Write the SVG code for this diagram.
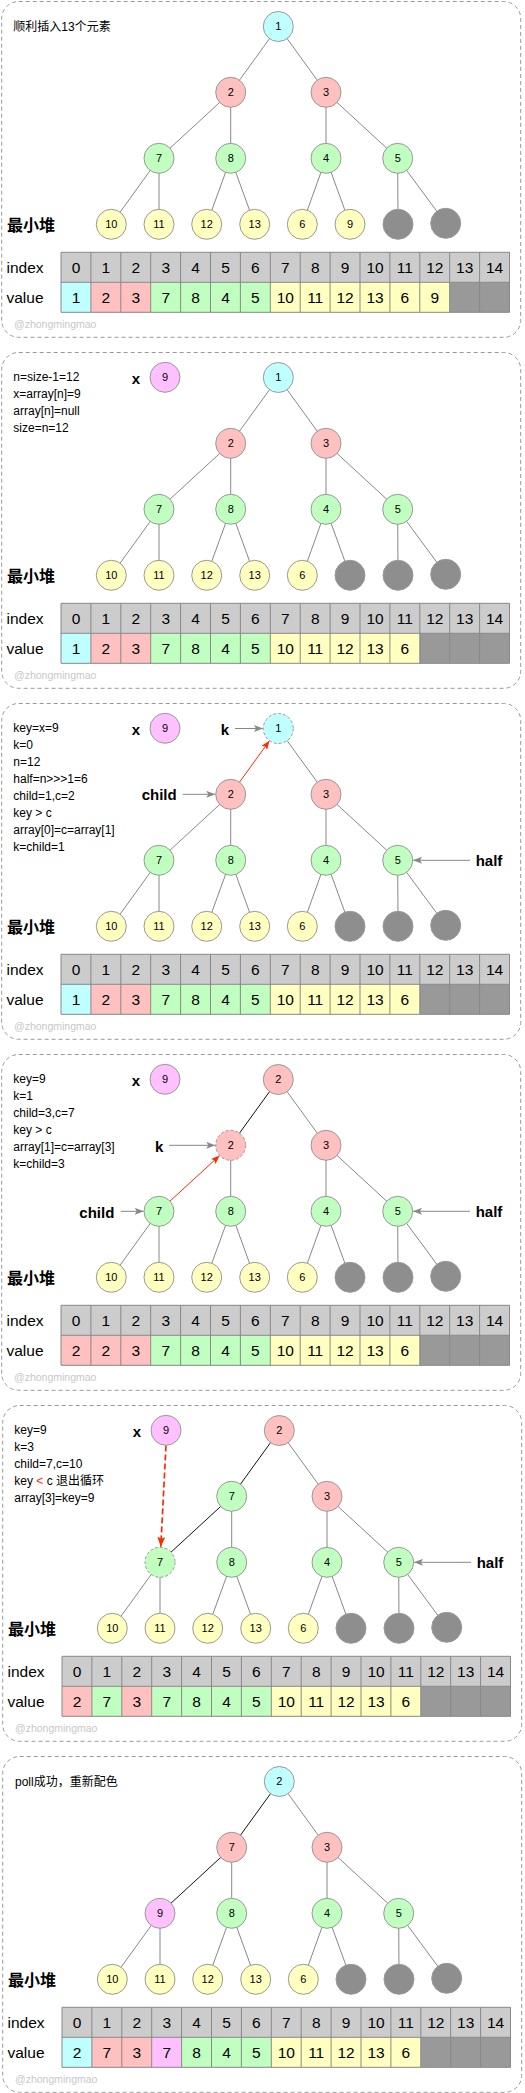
<svg xmlns="http://www.w3.org/2000/svg" xmlns:xlink="http://www.w3.org/1999/xlink" width="525" height="2093" viewBox="0 0 525 2093">
<style>
text{font-family:"Liberation Sans","Noto Sans CJK SC",sans-serif;}
.pb{fill:none;stroke:#999;stroke-width:1;stroke-dasharray:4 3;}
.e line{stroke:#888;stroke-width:1;}
.e line.eb{stroke:#111;stroke-width:1;}
.n{stroke:#999;stroke-width:1;}
.d{stroke-dasharray:3 2;}
.c{fill:#c0ffff;}.r{fill:#ffc0c0;}.g{fill:#c0ffc0;}.y{fill:#ffffc0;}.m{fill:#ffc0ff;}.k{fill:#8e8e8e;}.kt{fill:#999;}
.nt{font-size:11px;text-anchor:middle;fill:#000;}
.tt{font-size:15.5px;text-anchor:middle;fill:#000;}
.rl{font-size:15.5px;fill:#000;}
.hp{font-size:16px;font-weight:bold;fill:#000;}
.lb{font-size:15px;font-weight:bold;fill:#000;}
.note{font-size:12px;fill:#000;}
.wm{font-size:10.5px;fill:#c8c8c8;}
.e line.ga{stroke:#888;stroke-width:1;marker-end:url(#ag);}
.e line.ra{stroke:#ff2a00;stroke-width:1;marker-end:url(#ar);}
.e line.rd{stroke:#ff2a00;stroke-width:1.7;stroke-dasharray:6 3;fill:none;marker-end:url(#ar2);}
</style>
<defs>
<marker id="ag" markerUnits="userSpaceOnUse" viewBox="0 0 9 7" refX="9" refY="3.5" markerWidth="9" markerHeight="7" orient="auto"><path d="M0,0L9,3.5L0,7L2,3.5Z" fill="#888"/></marker>
<marker id="ar" markerUnits="userSpaceOnUse" viewBox="0 0 9 7" refX="9" refY="3.5" markerWidth="9" markerHeight="7" orient="auto"><path d="M0,0L9,3.5L0,7L2,3.5Z" fill="#ff2a00"/></marker>
<marker id="ar2" markerUnits="userSpaceOnUse" viewBox="0 0 10 8" refX="10" refY="4" markerWidth="10" markerHeight="8" orient="auto"><path d="M0,0L10,4L0,8L2,4Z" fill="#ff2a00"/></marker>
<rect id="frame" class="pb" x="1.7" y="0.5" width="519" height="335.8" rx="17"/>
<rect id="idxbg" x="61" y="251.3" width="448.5" height="30" fill="#ccc"/>
<path id="grid" fill="none" stroke="#888" stroke-width="1" d="M61,251.3H509.5V311.3H61Z M61,281.3H509.5 M90.9,251.3V311.3 M120.8,251.3V311.3 M150.7,251.3V311.3 M180.6,251.3V311.3 M210.5,251.3V311.3 M240.4,251.3V311.3 M270.3,251.3V311.3 M300.2,251.3V311.3 M330.1,251.3V311.3 M360,251.3V311.3 M389.9,251.3V311.3 M419.8,251.3V311.3 M449.7,251.3V311.3 M479.6,251.3V311.3"/>
</defs>

<!-- ================= PANEL 1 ================= -->
<g id="panel1" transform="translate(0,1)">
<use href="#frame"/>
<text class="note" x="13.3" y="30">顺利插入13个元素</text>
<g id="p1-connectors" class="e">
<line x1="278.3" y1="25.5" x2="230.7" y2="91.3"/><line x1="278.3" y1="25.5" x2="326" y2="91.3"/>
<line x1="230.7" y1="91.3" x2="159" y2="157.3"/><line x1="230.7" y1="91.3" x2="230.7" y2="157.3"/>
<line x1="326" y1="91.3" x2="326" y2="157.3"/><line x1="326" y1="91.3" x2="397.7" y2="157.3"/>
<line x1="159" y1="157.3" x2="111.3" y2="223.3"/><line x1="159" y1="157.3" x2="159" y2="223.3"/>
<line x1="230.7" y1="157.3" x2="206.7" y2="223.3"/><line x1="230.7" y1="157.3" x2="254.7" y2="223.3"/>
<line x1="326" y1="157.3" x2="302.3" y2="223.3"/><line x1="326" y1="157.3" x2="350" y2="223.3"/>
<line x1="397.7" y1="157.3" x2="398" y2="223.3"/><line x1="397.7" y1="157.3" x2="445.7" y2="222.3"/>
</g>
<g id="p1-n0"><circle class="n c" cx="278.3" cy="25.5" r="15"/><text class="nt" x="278.3" y="29.4">1</text></g>
<g id="p1-n1"><circle class="n r" cx="230.7" cy="91.3" r="15"/><text class="nt" x="230.7" y="95.2">2</text></g>
<g id="p1-n2"><circle class="n r" cx="326" cy="91.3" r="15"/><text class="nt" x="326" y="95.2">3</text></g>
<g id="p1-n3"><circle class="n g" cx="159" cy="157.3" r="15"/><text class="nt" x="159" y="161.2">7</text></g>
<g id="p1-n4"><circle class="n g" cx="230.7" cy="157.3" r="15"/><text class="nt" x="230.7" y="161.2">8</text></g>
<g id="p1-n5"><circle class="n g" cx="326" cy="157.3" r="15"/><text class="nt" x="326" y="161.2">4</text></g>
<g id="p1-n6"><circle class="n g" cx="397.7" cy="157.3" r="15"/><text class="nt" x="397.7" y="161.2">5</text></g>
<g id="p1-n7"><circle class="n y" cx="111.3" cy="223.3" r="15"/><text class="nt" x="111.3" y="227.2">10</text></g>
<g id="p1-n8"><circle class="n y" cx="159" cy="223.3" r="15"/><text class="nt" x="159" y="227.2">11</text></g>
<g id="p1-n9"><circle class="n y" cx="206.7" cy="223.3" r="15"/><text class="nt" x="206.7" y="227.2">12</text></g>
<g id="p1-n10"><circle class="n y" cx="254.7" cy="223.3" r="15"/><text class="nt" x="254.7" y="227.2">13</text></g>
<g id="p1-n11"><circle class="n y" cx="302.3" cy="223.3" r="15"/><text class="nt" x="302.3" y="227.2">6</text></g>
<g id="p1-n12"><circle class="n y" cx="350" cy="223.3" r="15"/><text class="nt" x="350" y="227.2">9</text></g>
<g id="p1-n13"><circle class="n k" cx="398" cy="223.3" r="15"/></g>
<g id="p1-n14"><circle class="n k" cx="445.7" cy="222.3" r="15"/></g>
<text class="hp" x="7" y="230">最小堆</text>
<g id="p1-table">
<use href="#idxbg"/>
<rect class="c" x="61" y="281.3" width="29.9" height="30"/><rect class="r" x="90.9" y="281.3" width="59.8" height="30"/><rect class="g" x="150.7" y="281.3" width="119.6" height="30"/><rect class="y" x="270.3" y="281.3" width="179.4" height="30"/><rect class="kt" x="449.7" y="281.3" width="59.8" height="30"/>
<use href="#grid"/>
<text class="rl" x="6.5" y="272">index</text><text class="rl" x="6.5" y="302">value</text>
<text class="tt" x="76" y="271.7">0</text><text class="tt" x="105.9" y="271.7">1</text><text class="tt" x="135.8" y="271.7">2</text><text class="tt" x="165.7" y="271.7">3</text><text class="tt" x="195.6" y="271.7">4</text><text class="tt" x="225.5" y="271.7">5</text><text class="tt" x="255.4" y="271.7">6</text><text class="tt" x="285.3" y="271.7">7</text><text class="tt" x="315.2" y="271.7">8</text><text class="tt" x="345.1" y="271.7">9</text><text class="tt" x="375" y="271.7">10</text><text class="tt" x="404.9" y="271.7">11</text><text class="tt" x="434.8" y="271.7">12</text><text class="tt" x="464.7" y="271.7">13</text><text class="tt" x="494.6" y="271.7">14</text>
<text class="tt" x="76" y="301.7">1</text><text class="tt" x="105.9" y="301.7">2</text><text class="tt" x="135.8" y="301.7">3</text><text class="tt" x="165.7" y="301.7">7</text><text class="tt" x="195.6" y="301.7">8</text><text class="tt" x="225.5" y="301.7">4</text><text class="tt" x="255.4" y="301.7">5</text><text class="tt" x="285.3" y="301.7">10</text><text class="tt" x="315.2" y="301.7">11</text><text class="tt" x="345.1" y="301.7">12</text><text class="tt" x="375" y="301.7">13</text><text class="tt" x="404.9" y="301.7">6</text><text class="tt" x="434.8" y="301.7">9</text>
</g>
<text class="wm" x="14" y="327">@zhongmingmao</text>
</g>

<!-- ================= PANEL 2 ================= -->
<g id="panel2" transform="translate(0,352)">
<use href="#frame"/>
<text class="note" x="13.3" y="28.5">n=size-1=12</text>
<text class="note" x="13.3" y="45.5">x=array[n]=9</text>
<text class="note" x="13.3" y="62.5">array[n]=null</text>
<text class="note" x="13.3" y="79.5">size=n=12</text>
<text class="lb" x="131.7" y="31.5">x</text>
<g id="p2-x"><circle class="n m" cx="165" cy="25.3" r="15"/><text class="nt" x="165" y="29.2">9</text></g>
<g id="p2-connectors" class="e">
<line x1="278.3" y1="25.5" x2="230.7" y2="91.3"/><line x1="278.3" y1="25.5" x2="326" y2="91.3"/>
<line x1="230.7" y1="91.3" x2="159" y2="157.3"/><line x1="230.7" y1="91.3" x2="230.7" y2="157.3"/>
<line x1="326" y1="91.3" x2="326" y2="157.3"/><line x1="326" y1="91.3" x2="397.7" y2="157.3"/>
<line x1="159" y1="157.3" x2="111.3" y2="223.3"/><line x1="159" y1="157.3" x2="159" y2="223.3"/>
<line x1="230.7" y1="157.3" x2="206.7" y2="223.3"/><line x1="230.7" y1="157.3" x2="254.7" y2="223.3"/>
<line x1="326" y1="157.3" x2="302.3" y2="223.3"/><line x1="326" y1="157.3" x2="350" y2="223.3"/>
<line x1="397.7" y1="157.3" x2="398" y2="223.3"/><line x1="397.7" y1="157.3" x2="445.7" y2="222.3"/>
</g>
<g id="p2-n0"><circle class="n c" cx="278.3" cy="25.5" r="15"/><text class="nt" x="278.3" y="29.4">1</text></g>
<g id="p2-n1"><circle class="n r" cx="230.7" cy="91.3" r="15"/><text class="nt" x="230.7" y="95.2">2</text></g>
<g id="p2-n2"><circle class="n r" cx="326" cy="91.3" r="15"/><text class="nt" x="326" y="95.2">3</text></g>
<g id="p2-n3"><circle class="n g" cx="159" cy="157.3" r="15"/><text class="nt" x="159" y="161.2">7</text></g>
<g id="p2-n4"><circle class="n g" cx="230.7" cy="157.3" r="15"/><text class="nt" x="230.7" y="161.2">8</text></g>
<g id="p2-n5"><circle class="n g" cx="326" cy="157.3" r="15"/><text class="nt" x="326" y="161.2">4</text></g>
<g id="p2-n6"><circle class="n g" cx="397.7" cy="157.3" r="15"/><text class="nt" x="397.7" y="161.2">5</text></g>
<g id="p2-n7"><circle class="n y" cx="111.3" cy="223.3" r="15"/><text class="nt" x="111.3" y="227.2">10</text></g>
<g id="p2-n8"><circle class="n y" cx="159" cy="223.3" r="15"/><text class="nt" x="159" y="227.2">11</text></g>
<g id="p2-n9"><circle class="n y" cx="206.7" cy="223.3" r="15"/><text class="nt" x="206.7" y="227.2">12</text></g>
<g id="p2-n10"><circle class="n y" cx="254.7" cy="223.3" r="15"/><text class="nt" x="254.7" y="227.2">13</text></g>
<g id="p2-n11"><circle class="n y" cx="302.3" cy="223.3" r="15"/><text class="nt" x="302.3" y="227.2">6</text></g>
<g id="p2-n12"><circle class="n k" cx="350" cy="223.3" r="15"/></g>
<g id="p2-n13"><circle class="n k" cx="398" cy="223.3" r="15"/></g>
<g id="p2-n14"><circle class="n k" cx="445.7" cy="222.3" r="15"/></g>
<text class="hp" x="7" y="230">最小堆</text>
<g id="p2-table">
<use href="#idxbg"/>
<rect class="c" x="61" y="281.3" width="29.9" height="30"/><rect class="r" x="90.9" y="281.3" width="59.8" height="30"/><rect class="g" x="150.7" y="281.3" width="119.6" height="30"/><rect class="y" x="270.3" y="281.3" width="149.5" height="30"/><rect class="kt" x="419.8" y="281.3" width="89.7" height="30"/>
<use href="#grid"/>
<text class="rl" x="6.5" y="272">index</text><text class="rl" x="6.5" y="302">value</text>
<text class="tt" x="76" y="271.7">0</text><text class="tt" x="105.9" y="271.7">1</text><text class="tt" x="135.8" y="271.7">2</text><text class="tt" x="165.7" y="271.7">3</text><text class="tt" x="195.6" y="271.7">4</text><text class="tt" x="225.5" y="271.7">5</text><text class="tt" x="255.4" y="271.7">6</text><text class="tt" x="285.3" y="271.7">7</text><text class="tt" x="315.2" y="271.7">8</text><text class="tt" x="345.1" y="271.7">9</text><text class="tt" x="375" y="271.7">10</text><text class="tt" x="404.9" y="271.7">11</text><text class="tt" x="434.8" y="271.7">12</text><text class="tt" x="464.7" y="271.7">13</text><text class="tt" x="494.6" y="271.7">14</text>
<text class="tt" x="76" y="301.7">1</text><text class="tt" x="105.9" y="301.7">2</text><text class="tt" x="135.8" y="301.7">3</text><text class="tt" x="165.7" y="301.7">7</text><text class="tt" x="195.6" y="301.7">8</text><text class="tt" x="225.5" y="301.7">4</text><text class="tt" x="255.4" y="301.7">5</text><text class="tt" x="285.3" y="301.7">10</text><text class="tt" x="315.2" y="301.7">11</text><text class="tt" x="345.1" y="301.7">12</text><text class="tt" x="375" y="301.7">13</text><text class="tt" x="404.9" y="301.7">6</text>
</g>
<text class="wm" x="14" y="327">@zhongmingmao</text>
</g>

<!-- ================= PANEL 3 ================= -->
<g id="panel3" transform="translate(0,703)">
<use href="#frame"/>
<text class="note" x="13.3" y="28.5">key=x=9</text>
<text class="note" x="13.3" y="45.5">k=0</text>
<text class="note" x="13.3" y="62.5">n=12</text>
<text class="note" x="13.3" y="79.5">half=n&gt;&gt;&gt;1=6</text>
<text class="note" x="13.3" y="96.5">child=1,c=2</text>
<text class="note" x="13.3" y="113.5">key &gt; c</text>
<text class="note" x="13.3" y="130.5">array[0]=c=array[1]</text>
<text class="note" x="13.3" y="147.5">k=child=1</text>
<text class="lb" x="131.7" y="31.5">x</text>
<g id="p3-x"><circle class="n m" cx="165" cy="25.3" r="15"/><text class="nt" x="165" y="29.2">9</text></g>
<g id="p3-connectors" class="e">
<line x1="278.3" y1="25.5" x2="326" y2="91.3"/>
<line x1="230.7" y1="91.3" x2="159" y2="157.3"/><line x1="230.7" y1="91.3" x2="230.7" y2="157.3"/>
<line x1="326" y1="91.3" x2="326" y2="157.3"/><line x1="326" y1="91.3" x2="397.7" y2="157.3"/>
<line x1="159" y1="157.3" x2="111.3" y2="223.3"/><line x1="159" y1="157.3" x2="159" y2="223.3"/>
<line x1="230.7" y1="157.3" x2="206.7" y2="223.3"/><line x1="230.7" y1="157.3" x2="254.7" y2="223.3"/>
<line x1="326" y1="157.3" x2="302.3" y2="223.3"/><line x1="326" y1="157.3" x2="350" y2="223.3"/>
<line x1="397.7" y1="157.3" x2="398" y2="223.3"/><line x1="397.7" y1="157.3" x2="445.7" y2="222.3"/>
<line class="ra" x1="239.5" y1="79.2" x2="269.5" y2="37.7"/>
<line class="ga" x1="235" y1="25.5" x2="263" y2="25.5"/>
<line class="ga" x1="182.7" y1="91.3" x2="215.3" y2="91.3"/>
<line class="ga" x1="470" y1="157.3" x2="413" y2="157.3"/>
</g>
<text class="lb" x="220.7" y="32">k</text>
<text class="lb" x="141.7" y="97">child</text>
<text class="lb" x="475.7" y="163">half</text>
<g id="p3-n0"><circle class="n c d" cx="278.3" cy="25.5" r="15"/><text class="nt" x="278.3" y="29.4">1</text></g>
<g id="p3-n1"><circle class="n r" cx="230.7" cy="91.3" r="15"/><text class="nt" x="230.7" y="95.2">2</text></g>
<g id="p3-n2"><circle class="n r" cx="326" cy="91.3" r="15"/><text class="nt" x="326" y="95.2">3</text></g>
<g id="p3-n3"><circle class="n g" cx="159" cy="157.3" r="15"/><text class="nt" x="159" y="161.2">7</text></g>
<g id="p3-n4"><circle class="n g" cx="230.7" cy="157.3" r="15"/><text class="nt" x="230.7" y="161.2">8</text></g>
<g id="p3-n5"><circle class="n g" cx="326" cy="157.3" r="15"/><text class="nt" x="326" y="161.2">4</text></g>
<g id="p3-n6"><circle class="n g" cx="397.7" cy="157.3" r="15"/><text class="nt" x="397.7" y="161.2">5</text></g>
<g id="p3-n7"><circle class="n y" cx="111.3" cy="223.3" r="15"/><text class="nt" x="111.3" y="227.2">10</text></g>
<g id="p3-n8"><circle class="n y" cx="159" cy="223.3" r="15"/><text class="nt" x="159" y="227.2">11</text></g>
<g id="p3-n9"><circle class="n y" cx="206.7" cy="223.3" r="15"/><text class="nt" x="206.7" y="227.2">12</text></g>
<g id="p3-n10"><circle class="n y" cx="254.7" cy="223.3" r="15"/><text class="nt" x="254.7" y="227.2">13</text></g>
<g id="p3-n11"><circle class="n y" cx="302.3" cy="223.3" r="15"/><text class="nt" x="302.3" y="227.2">6</text></g>
<g id="p3-n12"><circle class="n k" cx="350" cy="223.3" r="15"/></g>
<g id="p3-n13"><circle class="n k" cx="398" cy="223.3" r="15"/></g>
<g id="p3-n14"><circle class="n k" cx="445.7" cy="222.3" r="15"/></g>
<text class="hp" x="7" y="230">最小堆</text>
<g id="p3-table">
<use href="#idxbg"/>
<rect class="c" x="61" y="281.3" width="29.9" height="30"/><rect class="r" x="90.9" y="281.3" width="59.8" height="30"/><rect class="g" x="150.7" y="281.3" width="119.6" height="30"/><rect class="y" x="270.3" y="281.3" width="149.5" height="30"/><rect class="kt" x="419.8" y="281.3" width="89.7" height="30"/>
<use href="#grid"/>
<text class="rl" x="6.5" y="272">index</text><text class="rl" x="6.5" y="302">value</text>
<text class="tt" x="76" y="271.7">0</text><text class="tt" x="105.9" y="271.7">1</text><text class="tt" x="135.8" y="271.7">2</text><text class="tt" x="165.7" y="271.7">3</text><text class="tt" x="195.6" y="271.7">4</text><text class="tt" x="225.5" y="271.7">5</text><text class="tt" x="255.4" y="271.7">6</text><text class="tt" x="285.3" y="271.7">7</text><text class="tt" x="315.2" y="271.7">8</text><text class="tt" x="345.1" y="271.7">9</text><text class="tt" x="375" y="271.7">10</text><text class="tt" x="404.9" y="271.7">11</text><text class="tt" x="434.8" y="271.7">12</text><text class="tt" x="464.7" y="271.7">13</text><text class="tt" x="494.6" y="271.7">14</text>
<text class="tt" x="76" y="301.7">1</text><text class="tt" x="105.9" y="301.7">2</text><text class="tt" x="135.8" y="301.7">3</text><text class="tt" x="165.7" y="301.7">7</text><text class="tt" x="195.6" y="301.7">8</text><text class="tt" x="225.5" y="301.7">4</text><text class="tt" x="255.4" y="301.7">5</text><text class="tt" x="285.3" y="301.7">10</text><text class="tt" x="315.2" y="301.7">11</text><text class="tt" x="345.1" y="301.7">12</text><text class="tt" x="375" y="301.7">13</text><text class="tt" x="404.9" y="301.7">6</text>
</g>
<text class="wm" x="14" y="327">@zhongmingmao</text>
</g>

<!-- ================= PANEL 4 ================= -->
<g id="panel4" transform="translate(0,1054)">
<use href="#frame"/>
<text class="note" x="13.3" y="28.5">key=9</text>
<text class="note" x="13.3" y="45.5">k=1</text>
<text class="note" x="13.3" y="62.5">child=3,c=7</text>
<text class="note" x="13.3" y="79.5">key &gt; c</text>
<text class="note" x="13.3" y="96.5">array[1]=c=array[3]</text>
<text class="note" x="13.3" y="113.5">k=child=3</text>
<text class="lb" x="131.7" y="31.5">x</text>
<g id="p4-x"><circle class="n m" cx="165" cy="25.3" r="15"/><text class="nt" x="165" y="29.2">9</text></g>
<g id="p4-connectors" class="e">
<line class="eb" x1="278.3" y1="25.5" x2="230.7" y2="91.3"/><line x1="278.3" y1="25.5" x2="326" y2="91.3"/>
<line x1="230.7" y1="91.3" x2="230.7" y2="157.3"/>
<line x1="326" y1="91.3" x2="326" y2="157.3"/><line x1="326" y1="91.3" x2="397.7" y2="157.3"/>
<line x1="159" y1="157.3" x2="111.3" y2="223.3"/><line x1="159" y1="157.3" x2="159" y2="223.3"/>
<line x1="230.7" y1="157.3" x2="206.7" y2="223.3"/><line x1="230.7" y1="157.3" x2="254.7" y2="223.3"/>
<line x1="326" y1="157.3" x2="302.3" y2="223.3"/><line x1="326" y1="157.3" x2="350" y2="223.3"/>
<line x1="397.7" y1="157.3" x2="398" y2="223.3"/><line x1="397.7" y1="157.3" x2="445.7" y2="222.3"/>
<line class="ra" x1="170" y1="147.1" x2="219.7" y2="101.5"/>
<line class="ga" x1="169" y1="91.3" x2="215.3" y2="91.3"/>
<line class="ga" x1="120.7" y1="157.3" x2="143.7" y2="157.3"/>
<line class="ga" x1="470" y1="157.3" x2="413" y2="157.3"/>
</g>
<text class="lb" x="155" y="97.5">k</text>
<text class="lb" x="79.3" y="163.5">child</text>
<text class="lb" x="475.7" y="163">half</text>
<g id="p4-n0"><circle class="n r" cx="278.3" cy="25.5" r="15"/><text class="nt" x="278.3" y="29.4">2</text></g>
<g id="p4-n1"><circle class="n r d" cx="230.7" cy="91.3" r="15"/><text class="nt" x="230.7" y="95.2">2</text></g>
<g id="p4-n2"><circle class="n r" cx="326" cy="91.3" r="15"/><text class="nt" x="326" y="95.2">3</text></g>
<g id="p4-n3"><circle class="n g" cx="159" cy="157.3" r="15"/><text class="nt" x="159" y="161.2">7</text></g>
<g id="p4-n4"><circle class="n g" cx="230.7" cy="157.3" r="15"/><text class="nt" x="230.7" y="161.2">8</text></g>
<g id="p4-n5"><circle class="n g" cx="326" cy="157.3" r="15"/><text class="nt" x="326" y="161.2">4</text></g>
<g id="p4-n6"><circle class="n g" cx="397.7" cy="157.3" r="15"/><text class="nt" x="397.7" y="161.2">5</text></g>
<g id="p4-n7"><circle class="n y" cx="111.3" cy="223.3" r="15"/><text class="nt" x="111.3" y="227.2">10</text></g>
<g id="p4-n8"><circle class="n y" cx="159" cy="223.3" r="15"/><text class="nt" x="159" y="227.2">11</text></g>
<g id="p4-n9"><circle class="n y" cx="206.7" cy="223.3" r="15"/><text class="nt" x="206.7" y="227.2">12</text></g>
<g id="p4-n10"><circle class="n y" cx="254.7" cy="223.3" r="15"/><text class="nt" x="254.7" y="227.2">13</text></g>
<g id="p4-n11"><circle class="n y" cx="302.3" cy="223.3" r="15"/><text class="nt" x="302.3" y="227.2">6</text></g>
<g id="p4-n12"><circle class="n k" cx="350" cy="223.3" r="15"/></g>
<g id="p4-n13"><circle class="n k" cx="398" cy="223.3" r="15"/></g>
<g id="p4-n14"><circle class="n k" cx="445.7" cy="222.3" r="15"/></g>
<text class="hp" x="7" y="230">最小堆</text>
<g id="p4-table">
<use href="#idxbg"/>
<rect class="r" x="61" y="281.3" width="89.7" height="30"/><rect class="g" x="150.7" y="281.3" width="119.6" height="30"/><rect class="y" x="270.3" y="281.3" width="149.5" height="30"/><rect class="kt" x="419.8" y="281.3" width="89.7" height="30"/>
<use href="#grid"/>
<text class="rl" x="6.5" y="272">index</text><text class="rl" x="6.5" y="302">value</text>
<text class="tt" x="76" y="271.7">0</text><text class="tt" x="105.9" y="271.7">1</text><text class="tt" x="135.8" y="271.7">2</text><text class="tt" x="165.7" y="271.7">3</text><text class="tt" x="195.6" y="271.7">4</text><text class="tt" x="225.5" y="271.7">5</text><text class="tt" x="255.4" y="271.7">6</text><text class="tt" x="285.3" y="271.7">7</text><text class="tt" x="315.2" y="271.7">8</text><text class="tt" x="345.1" y="271.7">9</text><text class="tt" x="375" y="271.7">10</text><text class="tt" x="404.9" y="271.7">11</text><text class="tt" x="434.8" y="271.7">12</text><text class="tt" x="464.7" y="271.7">13</text><text class="tt" x="494.6" y="271.7">14</text>
<text class="tt" x="76" y="301.7">2</text><text class="tt" x="105.9" y="301.7">2</text><text class="tt" x="135.8" y="301.7">3</text><text class="tt" x="165.7" y="301.7">7</text><text class="tt" x="195.6" y="301.7">8</text><text class="tt" x="225.5" y="301.7">4</text><text class="tt" x="255.4" y="301.7">5</text><text class="tt" x="285.3" y="301.7">10</text><text class="tt" x="315.2" y="301.7">11</text><text class="tt" x="345.1" y="301.7">12</text><text class="tt" x="375" y="301.7">13</text><text class="tt" x="404.9" y="301.7">6</text>
</g>
<text class="wm" x="14" y="327">@zhongmingmao</text>
</g>

<!-- ================= PANEL 5 ================= -->
<g id="panel5" transform="translate(1,1405)">
<use href="#frame"/>
<text class="note" x="13.3" y="28.5">key=9</text>
<text class="note" x="13.3" y="45.5">k=3</text>
<text class="note" x="13.3" y="62.5">child=7,c=10</text>
<text class="note" x="13.3" y="79.5">key <tspan fill="#ff2a00">&lt;</tspan> c 退出循环</text>
<text class="note" x="13.3" y="96.5">array[3]=key=9</text>
<text class="lb" x="131.7" y="31.5">x</text>
<g id="p5-connectors" class="e">
<line class="eb" x1="278.3" y1="25.5" x2="230.7" y2="91.3"/><line x1="278.3" y1="25.5" x2="326" y2="91.3"/>
<line class="eb" x1="230.7" y1="91.3" x2="159" y2="157.3"/><line x1="230.7" y1="91.3" x2="230.7" y2="157.3"/>
<line x1="326" y1="91.3" x2="326" y2="157.3"/><line x1="326" y1="91.3" x2="397.7" y2="157.3"/>
<line x1="159" y1="157.3" x2="111.3" y2="223.3"/><line x1="159" y1="157.3" x2="159" y2="223.3"/>
<line x1="230.7" y1="157.3" x2="206.7" y2="223.3"/><line x1="230.7" y1="157.3" x2="254.7" y2="223.3"/>
<line x1="326" y1="157.3" x2="302.3" y2="223.3"/><line x1="326" y1="157.3" x2="350" y2="223.3"/>
<line x1="397.7" y1="157.3" x2="398" y2="223.3"/><line x1="397.7" y1="157.3" x2="445.7" y2="222.3"/>
<line class="rd" x1="165" y1="40.5" x2="159.8" y2="141.8"/>
<line class="ga" x1="470" y1="157.3" x2="413" y2="157.3"/>
</g>
<text class="lb" x="475.7" y="163">half</text>
<g id="p5-x"><circle class="n m" cx="165" cy="25.3" r="15"/><text class="nt" x="165" y="29.2">9</text></g>
<g id="p5-n0"><circle class="n r" cx="278.3" cy="25.5" r="15"/><text class="nt" x="278.3" y="29.4">2</text></g>
<g id="p5-n1"><circle class="n g" cx="230.7" cy="91.3" r="15"/><text class="nt" x="230.7" y="95.2">7</text></g>
<g id="p5-n2"><circle class="n r" cx="326" cy="91.3" r="15"/><text class="nt" x="326" y="95.2">3</text></g>
<g id="p5-n3"><circle class="n g d" cx="159" cy="157.3" r="15"/><text class="nt" x="159" y="161.2">7</text></g>
<g id="p5-n4"><circle class="n g" cx="230.7" cy="157.3" r="15"/><text class="nt" x="230.7" y="161.2">8</text></g>
<g id="p5-n5"><circle class="n g" cx="326" cy="157.3" r="15"/><text class="nt" x="326" y="161.2">4</text></g>
<g id="p5-n6"><circle class="n g" cx="397.7" cy="157.3" r="15"/><text class="nt" x="397.7" y="161.2">5</text></g>
<g id="p5-n7"><circle class="n y" cx="111.3" cy="223.3" r="15"/><text class="nt" x="111.3" y="227.2">10</text></g>
<g id="p5-n8"><circle class="n y" cx="159" cy="223.3" r="15"/><text class="nt" x="159" y="227.2">11</text></g>
<g id="p5-n9"><circle class="n y" cx="206.7" cy="223.3" r="15"/><text class="nt" x="206.7" y="227.2">12</text></g>
<g id="p5-n10"><circle class="n y" cx="254.7" cy="223.3" r="15"/><text class="nt" x="254.7" y="227.2">13</text></g>
<g id="p5-n11"><circle class="n y" cx="302.3" cy="223.3" r="15"/><text class="nt" x="302.3" y="227.2">6</text></g>
<g id="p5-n12"><circle class="n k" cx="350" cy="223.3" r="15"/></g>
<g id="p5-n13"><circle class="n k" cx="398" cy="223.3" r="15"/></g>
<g id="p5-n14"><circle class="n k" cx="445.7" cy="222.3" r="15"/></g>
<text class="hp" x="7" y="230">最小堆</text>
<g id="p5-table">
<use href="#idxbg"/>
<rect class="r" x="61" y="281.3" width="29.9" height="30"/><rect class="g" x="90.9" y="281.3" width="29.9" height="30"/><rect class="r" x="120.8" y="281.3" width="29.9" height="30"/><rect class="g" x="150.7" y="281.3" width="119.6" height="30"/><rect class="y" x="270.3" y="281.3" width="149.5" height="30"/><rect class="kt" x="419.8" y="281.3" width="89.7" height="30"/>
<use href="#grid"/>
<text class="rl" x="6.5" y="272">index</text><text class="rl" x="6.5" y="302">value</text>
<text class="tt" x="76" y="271.7">0</text><text class="tt" x="105.9" y="271.7">1</text><text class="tt" x="135.8" y="271.7">2</text><text class="tt" x="165.7" y="271.7">3</text><text class="tt" x="195.6" y="271.7">4</text><text class="tt" x="225.5" y="271.7">5</text><text class="tt" x="255.4" y="271.7">6</text><text class="tt" x="285.3" y="271.7">7</text><text class="tt" x="315.2" y="271.7">8</text><text class="tt" x="345.1" y="271.7">9</text><text class="tt" x="375" y="271.7">10</text><text class="tt" x="404.9" y="271.7">11</text><text class="tt" x="434.8" y="271.7">12</text><text class="tt" x="464.7" y="271.7">13</text><text class="tt" x="494.6" y="271.7">14</text>
<text class="tt" x="76" y="301.7">2</text><text class="tt" x="105.9" y="301.7">7</text><text class="tt" x="135.8" y="301.7">3</text><text class="tt" x="165.7" y="301.7">7</text><text class="tt" x="195.6" y="301.7">8</text><text class="tt" x="225.5" y="301.7">4</text><text class="tt" x="255.4" y="301.7">5</text><text class="tt" x="285.3" y="301.7">10</text><text class="tt" x="315.2" y="301.7">11</text><text class="tt" x="345.1" y="301.7">12</text><text class="tt" x="375" y="301.7">13</text><text class="tt" x="404.9" y="301.7">6</text>
</g>
<text class="wm" x="14" y="327">@zhongmingmao</text>
</g>

<!-- ================= PANEL 6 ================= -->
<g id="panel6" transform="translate(1,1756)">
<use href="#frame"/>
<text class="note" x="14" y="30">poll成功，重新配色</text>
<g id="p6-connectors" class="e">
<line class="eb" x1="278.3" y1="25.5" x2="230.7" y2="91.3"/><line x1="278.3" y1="25.5" x2="326" y2="91.3"/>
<line class="eb" x1="230.7" y1="91.3" x2="159" y2="157.3"/><line x1="230.7" y1="91.3" x2="230.7" y2="157.3"/>
<line x1="326" y1="91.3" x2="326" y2="157.3"/><line x1="326" y1="91.3" x2="397.7" y2="157.3"/>
<line x1="159" y1="157.3" x2="111.3" y2="223.3"/><line x1="159" y1="157.3" x2="159" y2="223.3"/>
<line x1="230.7" y1="157.3" x2="206.7" y2="223.3"/><line x1="230.7" y1="157.3" x2="254.7" y2="223.3"/>
<line x1="326" y1="157.3" x2="302.3" y2="223.3"/><line x1="326" y1="157.3" x2="350" y2="223.3"/>
<line x1="397.7" y1="157.3" x2="398" y2="223.3"/><line x1="397.7" y1="157.3" x2="445.7" y2="222.3"/>
</g>
<g id="p6-n0"><circle class="n c" cx="278.3" cy="25.5" r="15"/><text class="nt" x="278.3" y="29.4">2</text></g>
<g id="p6-n1"><circle class="n r" cx="230.7" cy="91.3" r="15"/><text class="nt" x="230.7" y="95.2">7</text></g>
<g id="p6-n2"><circle class="n r" cx="326" cy="91.3" r="15"/><text class="nt" x="326" y="95.2">3</text></g>
<g id="p6-n3"><circle class="n m" cx="159" cy="157.3" r="15"/><text class="nt" x="159" y="161.2">9</text></g>
<g id="p6-n4"><circle class="n g" cx="230.7" cy="157.3" r="15"/><text class="nt" x="230.7" y="161.2">8</text></g>
<g id="p6-n5"><circle class="n g" cx="326" cy="157.3" r="15"/><text class="nt" x="326" y="161.2">4</text></g>
<g id="p6-n6"><circle class="n g" cx="397.7" cy="157.3" r="15"/><text class="nt" x="397.7" y="161.2">5</text></g>
<g id="p6-n7"><circle class="n y" cx="111.3" cy="223.3" r="15"/><text class="nt" x="111.3" y="227.2">10</text></g>
<g id="p6-n8"><circle class="n y" cx="159" cy="223.3" r="15"/><text class="nt" x="159" y="227.2">11</text></g>
<g id="p6-n9"><circle class="n y" cx="206.7" cy="223.3" r="15"/><text class="nt" x="206.7" y="227.2">12</text></g>
<g id="p6-n10"><circle class="n y" cx="254.7" cy="223.3" r="15"/><text class="nt" x="254.7" y="227.2">13</text></g>
<g id="p6-n11"><circle class="n y" cx="302.3" cy="223.3" r="15"/><text class="nt" x="302.3" y="227.2">6</text></g>
<g id="p6-n12"><circle class="n k" cx="350" cy="223.3" r="15"/></g>
<g id="p6-n13"><circle class="n k" cx="398" cy="223.3" r="15"/></g>
<g id="p6-n14"><circle class="n k" cx="445.7" cy="222.3" r="15"/></g>
<text class="hp" x="7" y="230">最小堆</text>
<g id="p6-table">
<use href="#idxbg"/>
<rect class="c" x="61" y="281.3" width="29.9" height="30"/><rect class="r" x="90.9" y="281.3" width="59.8" height="30"/><rect class="m" x="150.7" y="281.3" width="29.9" height="30"/><rect class="g" x="180.6" y="281.3" width="89.7" height="30"/><rect class="y" x="270.3" y="281.3" width="149.5" height="30"/><rect class="kt" x="419.8" y="281.3" width="89.7" height="30"/>
<use href="#grid"/>
<text class="rl" x="6.5" y="272">index</text><text class="rl" x="6.5" y="302">value</text>
<text class="tt" x="76" y="271.7">0</text><text class="tt" x="105.9" y="271.7">1</text><text class="tt" x="135.8" y="271.7">2</text><text class="tt" x="165.7" y="271.7">3</text><text class="tt" x="195.6" y="271.7">4</text><text class="tt" x="225.5" y="271.7">5</text><text class="tt" x="255.4" y="271.7">6</text><text class="tt" x="285.3" y="271.7">7</text><text class="tt" x="315.2" y="271.7">8</text><text class="tt" x="345.1" y="271.7">9</text><text class="tt" x="375" y="271.7">10</text><text class="tt" x="404.9" y="271.7">11</text><text class="tt" x="434.8" y="271.7">12</text><text class="tt" x="464.7" y="271.7">13</text><text class="tt" x="494.6" y="271.7">14</text>
<text class="tt" x="76" y="301.7">2</text><text class="tt" x="105.9" y="301.7">7</text><text class="tt" x="135.8" y="301.7">3</text><text class="tt" x="165.7" y="301.7">7</text><text class="tt" x="195.6" y="301.7">8</text><text class="tt" x="225.5" y="301.7">4</text><text class="tt" x="255.4" y="301.7">5</text><text class="tt" x="285.3" y="301.7">10</text><text class="tt" x="315.2" y="301.7">11</text><text class="tt" x="345.1" y="301.7">12</text><text class="tt" x="375" y="301.7">13</text><text class="tt" x="404.9" y="301.7">6</text>
</g>
<text class="wm" x="14" y="327">@zhongmingmao</text>
</g>
</svg>
